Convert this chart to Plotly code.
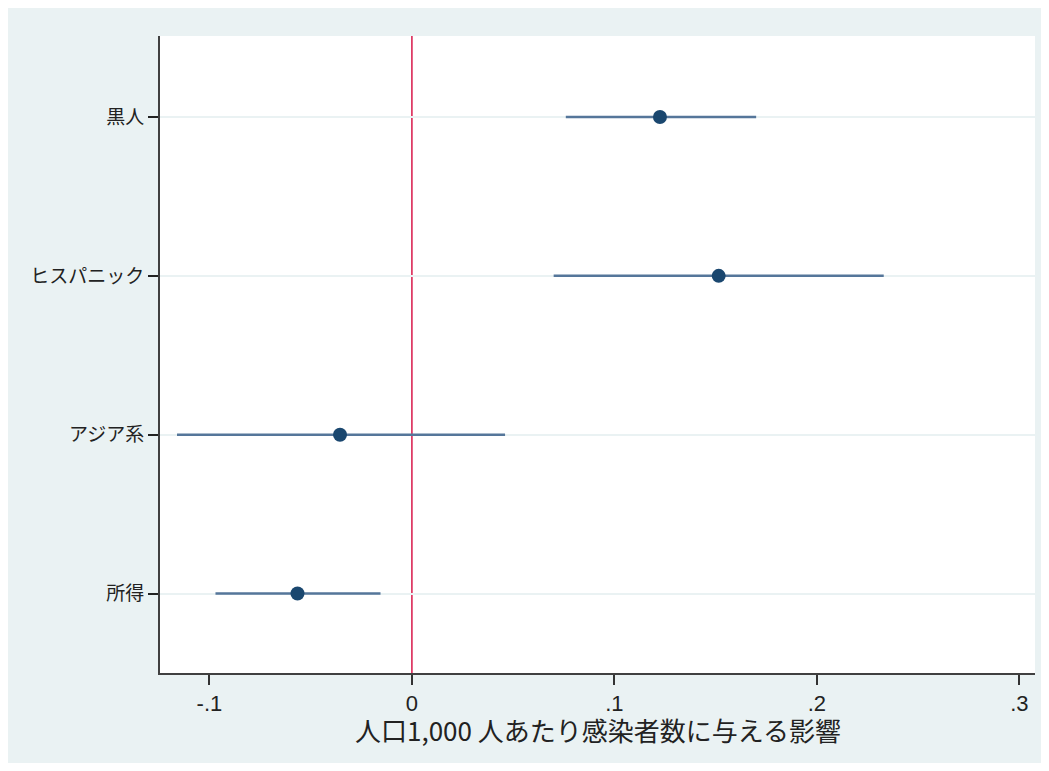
import plotly.graph_objects as go

# Data
categories = ["黒人", "ヒスパニック", "アジア系", "所得"]
estimates = [0.1225, 0.1515, -0.0355, -0.0565]
ci_lower = [0.0760, 0.0700, -0.1160, -0.0970]
ci_upper = [0.1700, 0.2330, 0.0460, -0.0155]
positions = [4, 3, 2, 1]
x_tickvals = [-0.1, 0, 0.1, 0.2, 0.3]
x_ticktext = ["-.1", "0", ".1", ".2", ".3"]
x_title = "人口1,000 人あたり感染者数に与える影響"
ref_value = 0

BG = "#eaf2f3"
FONT = "Liberation Sans, Arial, Noto Sans CJK JP, sans-serif"

fig = go.Figure()
fig.add_trace(go.Scatter(
    x=estimates,
    y=positions,
    mode="markers",
    marker=dict(color="#1a476f", size=14),
    error_x=dict(
        type="data",
        array=[u - e for u, e in zip(ci_upper, estimates)],
        arrayminus=[e - l for e, l in zip(estimates, ci_lower)],
        width=0,
        thickness=2.5,
        color="#55769a",
    ),
    showlegend=False,
    hoverinfo="skip",
))

fig.add_vline(x=ref_value, line=dict(color="#d8174a", width=1.5), layer="below")

fig.add_annotation(
    text=x_title,
    xref="paper", yref="paper",
    x=0.5, y=0,
    xanchor="center", yanchor="middle",
    yshift=-56,
    showarrow=False,
    font=dict(size=26, family="Noto Sans CJK JP, sans-serif", color="#222222"),
)

fig.update_layout(
    width=1033,
    height=755,
    margin=dict(l=152, r=6, t=28, b=90),
    paper_bgcolor=BG,
    plot_bgcolor="white",
    font=dict(family=FONT, color="#222222"),
    xaxis=dict(
        range=[-0.1244, 0.3077],
        tickvals=x_tickvals,
        ticktext=x_ticktext,
        ticks="outside",
        ticklen=10,
        tickwidth=1.5,
        tickcolor="#333333",
        tickfont=dict(size=22, color="#222222"),
        showline=True,
        linecolor="#404040",
        linewidth=2,
        showgrid=False,
        zeroline=False,
    ),
    yaxis=dict(
        range=[0.5, 4.51],
        tickvals=positions,
        ticktext=categories,
        ticks="outside",
        ticklen=10,
        tickwidth=1.5,
        tickcolor="#222222",
        tickfont=dict(size=19, family="Noto Sans CJK JP, sans-serif", color="#222222"),
        showline=True,
        linecolor="#404040",
        linewidth=2,
        showgrid=True,
        gridcolor="#eaf2f3",
        gridwidth=1.5,
        zeroline=False,
    ),
)

fig.write_html("out.html")
